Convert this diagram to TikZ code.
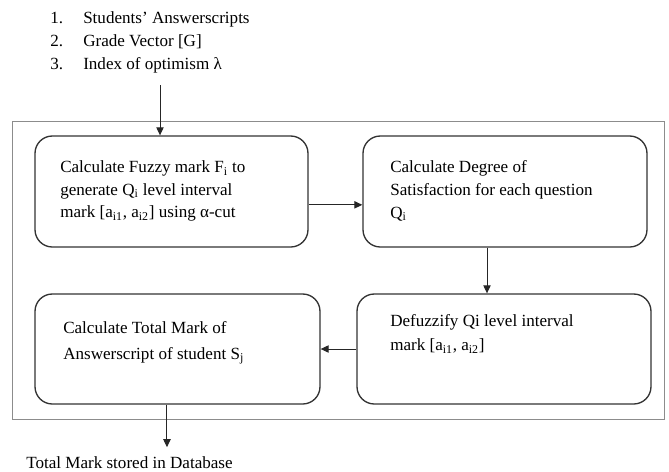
\documentclass[tikz,border=0pt]{standalone}
\usepackage{fontspec}
\setmainfont{Liberation Serif}
\usetikzlibrary{arrows.meta,positioning}
\tikzset{%
        stage/.style = {draw=black!80, line width=1pt, rounded corners=13pt, inner sep=0pt},
        txt/.style = {align=left, inner sep=0pt, font=\fontsize{12.8}{17}\selectfont},
        flow/.style = {-{Triangle[length=6pt,width=5.5pt]}, line width=0.75pt, draw=black!85}
}

\begin{document}
\begin{tikzpicture}[x=0.75pt,y=-0.75pt]
        \useasboundingbox (0,0) rectangle (669,472);
        % inputs
        \node[txt, anchor=base west] (in1) at (50,23) {\makebox[24.75pt][l]{1.}Students’ Answerscripts};
        \node[txt, anchor=base west] (in2) at (50,46) {\makebox[24.75pt][l]{2.}Grade Vector [G]};
        \node[txt, anchor=base west] (in3) at (50,69) {\makebox[24.75pt][l]{3.}Index of optimism λ};
        \coordinate (start) at (160,85);
        % frame and stages
        \node[draw=black!45, line width=0.75pt, minimum width=489pt, minimum height=223.5pt, inner sep=0pt] (frame) at (338,270) {};
        \node[stage, minimum width=204.75pt, minimum height=83.25pt] (fuzzy) at (171.5,191.5) {};
        \node[stage, minimum width=213pt, minimum height=83.25pt] (sat) at (505,191.5) {};
        \node[stage, minimum width=213.75pt, minimum height=82.5pt] (total) at (177.5,349) {};
        \node[stage, minimum width=220.5pt, minimum height=82.5pt] (dfz) at (504,349) {};
        \node[txt, anchor=north west] (fuzzytxt) at (60,160.5) {Calculate Fuzzy mark F\textsubscript{i} to\\generate Q\textsubscript{i} level interval\\mark [a\textsubscript{i1}, a\textsubscript{i2}] using α-cut};
        \node[txt, anchor=north west] (sattxt) at (390,160.5) {Calculate Degree of\\Satisfaction for each question\\Q\textsubscript{i}};
        \node[txt, anchor=north west] (totaltxt) at (63,321.5) {Calculate Total Mark of\\[2pt]Answerscript of student S\textsubscript{j}};
        \node[txt, anchor=north west] (dfztxt) at (390,314.5) {Defuzzify Qi level interval\\[1pt]mark [a\textsubscript{i1}, a\textsubscript{i2}]};
        \node[txt, anchor=base west] (out) at (26,468) {Total Mark stored in Database};
        % connectors
        \coordinate (fs) at ([yshift=-10pt]fuzzy.east);
        \coordinate (sd) at ([xshift=-13.5pt]sat.south);
        \coordinate (td) at ([xshift=-7.9pt]total.south);
        \draw[flow] (start) -- (start |- fuzzy.north);
        \draw[flow] (fs) -- (fs -| sat.west);
        \draw[flow] (sd) -- (sd |- dfz.north);
        \draw[flow] (dfz.west) -- (total.east);
        \draw[flow] (td) -- ([yshift=6.5pt]td |- out.north);
\end{tikzpicture}
\end{document}
